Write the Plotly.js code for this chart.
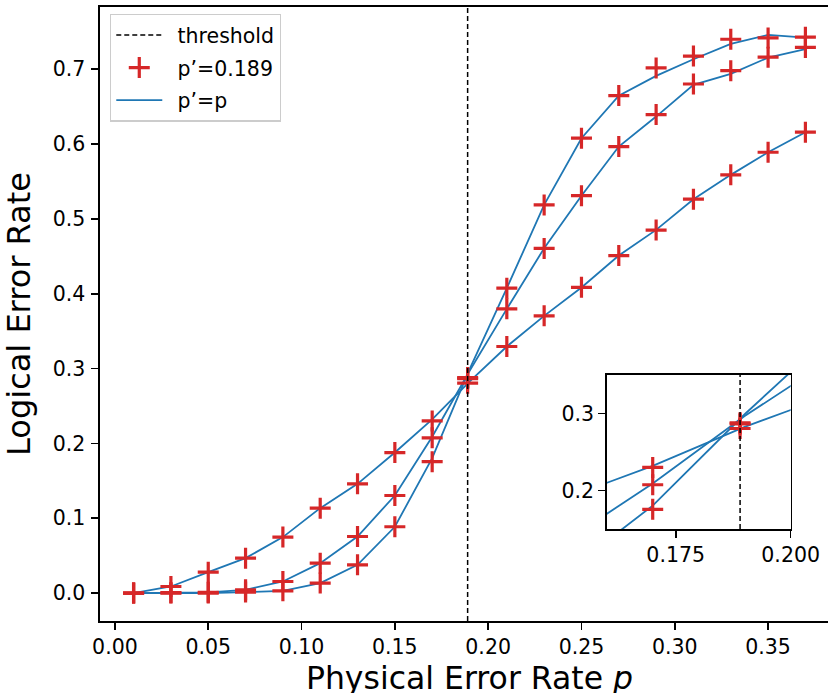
<!DOCTYPE html>
<html><head><meta charset="utf-8">
<script src="https://cdn.plot.ly/plotly-3.0.1.min.js"></script>
<style>html,body{margin:0;padding:0;overflow:hidden;background:#fff}#chart{width:845px;height:705px}</style>
</head><body><div id="chart"></div>
<script>
// ---- data ----
const lineX   = [0.01,0.03,0.05,0.07,0.09,0.11,0.13,0.15,0.17,0.19,0.21,0.23,0.25,0.27,0.29,0.31,0.33,0.35,0.37];
const markerX = [0.01,0.03,0.05,0.07,0.09,0.11,0.13,0.15,0.17,0.189,0.21,0.23,0.25,0.27,0.29,0.31,0.33,0.35,0.37];

// p'=p curves (lines)
const lineA = [0,0.0088,0.028,0.0467,0.0748,0.1135,0.146,0.1878,0.232,0.2826,0.3295,0.3704,0.4083,0.451,0.4853,0.5263,0.5588,0.589,0.6158];
const lineB = [0,0.0005,0.001,0.0044,0.0155,0.040,0.0756,0.1304,0.209,0.2967,0.3798,0.4608,0.531,0.5966,0.6367,0.679,0.6937,0.7155,0.7267];
const lineC = [0,0,0,0.0013,0.003,0.0134,0.0378,0.0886,0.1804,0.299,0.4074,0.5187,0.6078,0.6647,0.691,0.7133,0.7338,0.7458,0.7422];

// p'=0.189 curves (markers)
const markA = [0,0.0088,0.028,0.0467,0.0748,0.1135,0.146,0.1878,0.230,0.2805,0.3295,0.3704,0.4085,0.451,0.4851,0.5263,0.5588,0.589,0.6158];
const markB = [0,0.0005,0.001,0.0044,0.0155,0.040,0.0756,0.1304,0.2075,0.2865,0.3798,0.4605,0.531,0.5966,0.6394,0.6802,0.698,0.716,0.7291];
const markC = [0,0,0,0.0013,0.003,0.0134,0.0378,0.0886,0.1756,0.288,0.4074,0.5187,0.6078,0.6647,0.7017,0.7175,0.740,0.7418,0.7428];

const threshold = 0.189;

const xTickVals = [0,0.05,0.10,0.15,0.20,0.25,0.30,0.35];
const yTickVals = [0,0.1,0.2,0.3,0.4,0.5,0.6,0.7];
const insetXTicks = [0.175,0.200];
const insetYTicks = [0.2,0.3];

const mainXRange = [-0.008,0.388];
const mainYRange = [-0.0373,0.7831];
const insetXRange = [0.16,0.20];
const insetYRange = [0.15,0.35];

// ---- styles ----
const BLUE = '#1f77b4', RED = '#d62728';
const FONT = 'DejaVu Sans, sans-serif';
const TICKSIZE = 20.5;
const SP = '\u2002';

const lines = [lineA,lineB,lineC];
const marks = [markA,markB,markC];
const traces = [];

function addSet(xa, ya, yr, legend){
  lines.forEach((ys,i)=>traces.push({
    type:'scatter', mode:'lines', x:lineX, y:ys, xaxis:xa, yaxis:ya,
    line:{color:BLUE,width:1.8}, name:SP+'p’=p', legendgroup:'g3', legendrank:3,
    showlegend: legend && i===0, hoverinfo:'skip'
  }));
  marks.forEach((ys,i)=>traces.push({
    type:'scatter', mode:'markers', x:markerX, y:ys, xaxis:xa, yaxis:ya,
    marker:{symbol:'cross-thin', size:15, color:RED, line:{color:RED,width:3.2}},
    name:SP+'p’=0.189', legendgroup:'g2', legendrank:2,
    showlegend: legend && i===0, hoverinfo:'skip'
  }));
  traces.push({
    type:'scatter', mode:'lines', x:[threshold,threshold], y:yr, xaxis:xa, yaxis:ya,
    line:{color:'black',width:1.5,dash:'5px,3px'}, name:SP+'threshold',
    legendgroup:'g1', legendrank:1, showlegend:legend, hoverinfo:'skip'
  });
}
addSet('x','y',mainYRange,true);
addSet('x2','y2',insetYRange,false);

const axBase = {
  showline:true, linecolor:'black', linewidth:1.6, mirror:true,
  ticks:'outside', ticklen:7, tickwidth:1.6, tickcolor:'black',
  showgrid:false, zeroline:false,
  tickfont:{family:FONT,size:TICKSIZE,color:'black'}
};

const layout = {
  width:845, height:705,
  margin:{l:100,r:6,t:7,b:84},
  paper_bgcolor:'white', plot_bgcolor:'white',
  font:{family:FONT,color:'black'},
  showlegend:true,
  legend:{
    x:0.0135, y:0.989, xanchor:'left', yanchor:'top',
    bgcolor:'rgba(255,255,255,0.8)', bordercolor:'#cccccc', borderwidth:1.3,
    font:{family:FONT,size:TICKSIZE,color:'black'},
    traceorder:'grouped', tracegroupgap:3, itemwidth:46
  },
  xaxis: Object.assign({}, axBase, {
    domain:[0,1], range:mainXRange, tickvals:xTickVals, tickformat:'.2f',
    title:{text:'Physical Error Rate <i>p</i>', font:{family:FONT,size:31.5,color:'black'}, standoff:9}
  }),
  yaxis: Object.assign({}, axBase, {
    domain:[0,1], range:mainYRange, tickvals:yTickVals, tickformat:'.1f', ticklabelstandoff:2,
    title:{text:'Logical Error Rate', font:{family:FONT,size:32,color:'black'}, standoff:14}
  }),
  xaxis2: Object.assign({}, axBase, {
    domain:[0.6857,0.9346], range:insetXRange, tickvals:insetXTicks, tickformat:'.3f', anchor:'y2'
  }),
  yaxis2: Object.assign({}, axBase, {
    domain:[0.1498,0.4007], range:insetYRange, tickvals:insetYTicks, tickformat:'.1f', anchor:'x2'
  })
};

Plotly.newPlot('chart', traces, layout, {displayModeBar:false, staticPlot:true});
</script>
</body></html>
